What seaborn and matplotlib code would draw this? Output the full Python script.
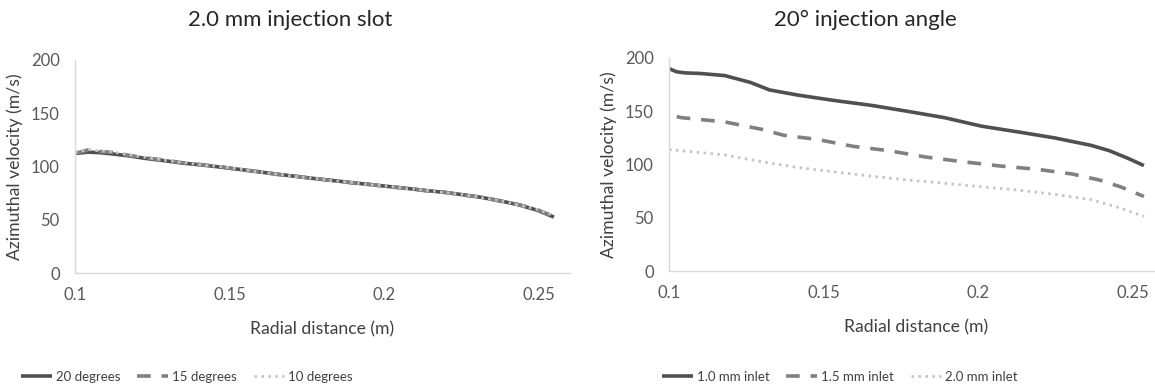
import matplotlib
matplotlib.use("Agg")
import matplotlib.pyplot as plt
from matplotlib import font_manager
import seaborn as sns
import pandas as pd

# ---- data: left panel (2.0 mm injection slot) ----
x_left = [0.1, 0.1012, 0.1042, 0.108, 0.1114, 0.1174, 0.123, 0.129, 0.1354, 0.1414, 0.1474,
          0.1534, 0.1594, 0.1654, 0.1714, 0.1774, 0.1834, 0.1894, 0.1954, 0.2014, 0.2074,
          0.2134, 0.2194, 0.2254, 0.2314, 0.2374, 0.2434, 0.2494, 0.2548]
deg20 = [112.5, 112.6, 113.5, 113.0, 112.0, 110.0, 107.5, 105.4, 103.0, 101.3, 99.3,
         97.2, 95.0, 92.8, 90.7, 88.7, 86.8, 84.9, 83.0, 81.2, 79.4,
         77.5, 75.7, 73.5, 71.0, 67.8, 64.0, 59.0, 52.5]
deg15 = [113.0, 113.2, 115.5, 114.0, 113.5, 110.5, 108.0, 106.0, 103.2, 101.6, 99.6,
         97.0, 95.2, 92.5, 90.9, 88.4, 87.0, 84.6, 83.2, 80.9, 79.6,
         77.2, 75.9, 73.2, 71.2, 67.5, 64.2, 59.5, 53.0]
deg10 = [113.3, 113.8, 116.0, 114.5, 114.0, 111.0, 108.4, 105.8, 103.5, 101.2, 99.8,
         97.5, 95.0, 92.9, 90.6, 88.9, 86.6, 85.0, 82.8, 81.4, 79.2,
         77.7, 75.5, 73.7, 70.8, 68.0, 63.8, 59.8, 54.0]

# ---- data: right panel (20° injection angle) ----
x_right = [0.1, 0.1025, 0.1053, 0.11, 0.118, 0.1264, 0.1325, 0.142, 0.1537, 0.1655, 0.177,
           0.189, 0.201, 0.2128, 0.2246, 0.2364, 0.2423, 0.2482, 0.2535]
mm10 = [190.0, 187.0, 186.0, 185.5, 183.5, 177.0, 170.0, 165.0, 160.0, 155.5, 150.0,
        144.0, 136.0, 130.6, 125.0, 118.0, 113.0, 106.0, 99.0]
x_right_b = [0.1025, 0.104, 0.118, 0.130, 0.137, 0.148, 0.1596, 0.171, 0.183, 0.195, 0.207,
             0.219, 0.2305, 0.239, 0.246, 0.2535]
mm15 = [145.0, 144.0, 140.0, 133.0, 127.5, 123.5, 117.0, 113.0, 107.0, 102.6, 98.6,
        95.5, 91.0, 85.5, 79.0, 70.0]
x_right_c = [0.1, 0.102, 0.118, 0.130, 0.142, 0.1537, 0.1655, 0.177, 0.189, 0.201, 0.2128,
             0.2246, 0.2364, 0.246, 0.2535]
mm20 = [114.0, 113.5, 109.0, 102.6, 97.0, 93.0, 89.0, 85.5, 82.4, 79.0, 76.0,
        72.0, 67.0, 59.0, 51.3]

left_labels = ["20 degrees", "15 degrees", "10 degrees"]
right_labels = ["1.0 mm inlet", "1.5 mm inlet", "2.0 mm inlet"]
titles = ["2.0 mm injection slot", "20° injection angle"]
xticks = [0.1, 0.15, 0.2, 0.25]
xtick_labels = ["0.1", "0.15", "0.2", "0.25"]
yticks = [0, 50, 100, 150, 200]

sns.set_theme(style="white")
plt.rcParams["font.family"] = ["Lato", "DejaVu Sans"]

fig = plt.figure(figsize=(11.55, 3.87), dpi=100)
axL = fig.add_axes([75 / 1155, 1 - 273 / 387, 495 / 1155, 213 / 387])
axR = fig.add_axes([669 / 1155, 1 - 271 / 387, 495 / 1155, 213 / 387])

styles = [
    dict(color="#505050", lw=2.6, ls="-"),
    dict(color="#808080", lw=2.6, ls=(0, (3.8, 3.0))),
    dict(color="#c4c4c4", lw=2.0, ls=(0, (0.9, 1.6))),
]

def draw(ax, xs, ys, labels):
    handles = []
    for x, y, lab, st in zip(xs, ys, labels, styles):
        df = pd.DataFrame({"x": x, "y": y})
        sns.lineplot(data=df, x="x", y="y", ax=ax, color=st["color"], linewidth=st["lw"],
                     linestyle=st["ls"], label=lab, legend=False, solid_capstyle="butt")
        handles.append(ax.lines[-1])
    ax.set_xlim(0.1, 0.26)
    ax.set_ylim(0, 200)
    ax.set_xticks(xticks)
    ax.set_xticklabels(xtick_labels)
    ax.set_yticks(yticks)
    ax.tick_params(axis="both", length=0, labelsize=12, colors="#595959")
    ax.tick_params(axis="y", pad=11)
    ax.tick_params(axis="x", pad=10)
    for s in ["top", "right"]:
        ax.spines[s].set_visible(False)
    for s in ["left", "bottom"]:
        ax.spines[s].set_color("#d9d9d9")
        ax.spines[s].set_linewidth(1.0)
    ax.set_xlabel("Radial distance (m)", fontsize=12.7, color="#404040", labelpad=13)
    ax.set_ylabel("Azimuthal velocity (m/s)", fontsize=12.7, color="#404040", labelpad=6)
    return handles

hL = draw(axL, [x_left, x_left, x_left], [deg20, deg15, deg10], left_labels)
hR = draw(axR, [x_right, x_right_b, x_right_c], [mm10, mm15, mm20], right_labels)

fig.text(290 / 1155, 1 - 20 / 387, titles[0], ha="center", va="center", fontsize=16, color="#262626")
fig.text(865 / 1155, 1 - 20 / 387, titles[1], ha="center", va="center", fontsize=16, color="#262626")

for h, labs, cx in [(hL, left_labels, 187), (hR, right_labels, 840)]:
    fig.legend(h, labs, loc="center", bbox_to_anchor=(cx / 1155, 1 - 377 / 387), ncol=3,
               frameon=False, handlelength=2.3, handletextpad=0.3,
               columnspacing=1.3, labelcolor="#404040", fontsize=9.5)

fig.savefig("out.png", dpi=100)
